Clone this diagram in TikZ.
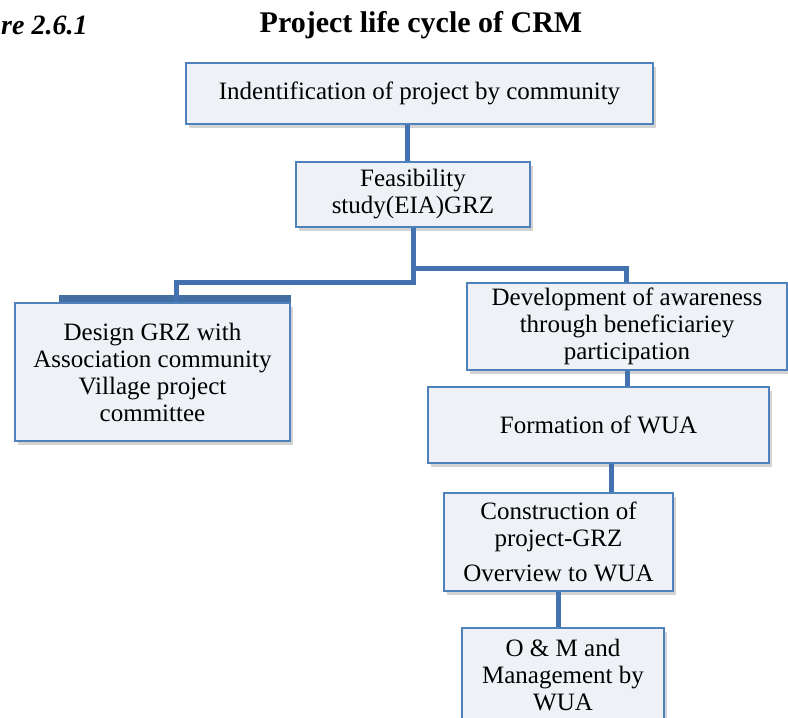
\documentclass[tikz,border=0pt]{standalone}
\usepackage{fontspec}
\setmainfont{Liberation Serif}
\usetikzlibrary{calc,shadows}
\definecolor{boxline}{RGB}{79,129,189}
\definecolor{boxfill}{RGB}{238,241,246}
\definecolor{linkblue}{RGB}{68,114,176}
\tikzset{
  stage/.style={draw=boxline,line width=1.5pt,fill=boxfill,align=center,inner sep=0pt,
    font=\fontsize{25}{27}\selectfont,
    drop shadow={shadow xshift=3pt,shadow yshift=-4pt,opacity=0.35}},
  link/.style={draw=linkblue,line width=5pt}
}
\begin{document}
\begin{tikzpicture}[x=1pt,y=-1pt]
        \useasboundingbox (0,0) rectangle (788,718);
        \node[anchor=west,inner sep=0pt,font=\fontsize{28}{30}\selectfont\bfseries\itshape] (fig) at (1,25) {re 2.6.1};
        \node[font=\fontsize{30}{32}\selectfont\bfseries] (title) at (421,25) {Project life cycle of CRM};
        \node[stage,minimum width=467pt,minimum height=61pt] (idn) at (419.5,93.5) {Indentification of project by community};
        \node[stage,minimum width=234pt,minimum height=65pt] (feas) at (413,194.5) {Feasibility\\study(EIA)GRZ};
        \fill[boxline!85!black] (59,295) rectangle (291,352);
        \node[stage,minimum width=275pt,minimum height=138pt] (design) at (152.5,372) {Design GRZ with\\Association community\\Village project\\committee};
        \node[stage,minimum width=320pt,minimum height=87pt] (aware) at (627,326.5) {Development of  awareness\\through beneficiariey\\participation};
        \node[stage,minimum width=341pt,minimum height=76pt] (form) at (598.5,425) {Formation of WUA};
        \node[stage,minimum width=229pt,minimum height=98pt] (constr) at (558.5,542) {Construction of\\project-GRZ\\[8pt]Overview to WUA};
        \node[stage,minimum width=202pt,minimum height=94pt] (om) at (563,675) {O \& M and\\Management by\\WUA};
        \coordinate (lbar) at (176,282);
        \coordinate (rbar) at (626,268);
        \draw[link] (idn.south -| feas.north) ++(-6,0) -- ($(feas.north)+(-6,0)$);
        \draw[link] (feas.south) -- (feas.south |- lbar) -- (lbar) -- (lbar |- design.north);
        \draw[link] (feas.south |- rbar) -- (rbar) -- (rbar |- aware.north);
        \draw[link] (aware.south) -- (aware.south |- form.north);
        \draw[link] ($(form.south)+(13,0)$) -- ($(form.south |- constr.north)+(13,0)$);
        \draw[link] (constr.south) -- (constr.south |- om.north);
    \end{tikzpicture}
\end{document}
